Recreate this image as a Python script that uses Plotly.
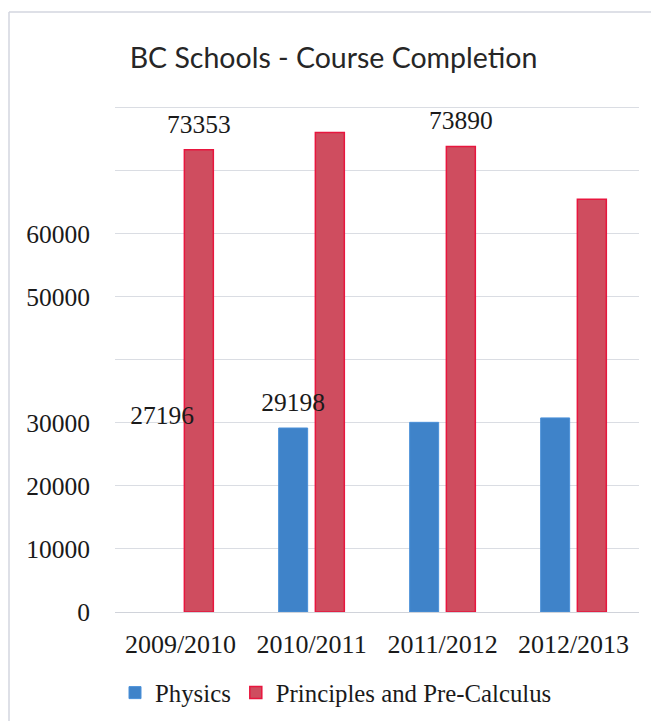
import plotly.graph_objects as go

categories = ["2009/2010", "2010/2011", "2011/2012", "2012/2013"]
physics = [27196, 29198, 30100, 30800]
precalc = [73353, 76100, 73890, 65500]
physics_labels = ["27196", "29198", "", ""]
precalc_labels = ["73353", "", "73890", ""]
physics_drawn = [False, True, True, True]   # the 2009/2010 Physics bar is not drawn in the source
tick_values = [0, 10000, 20000, 30000, 40000, 50000, 60000, 70000, 80000]
tick_text = ["0", "10000", "20000", "30000", "", "50000", "60000", "", ""]

serif = "Liberation Serif"
label_font = dict(family=serif, size=25.5, color="#1a1a1a")

# page has an 8px body margin; figure is sized/placed to compensate
W, H = 651, 713
L, T = 107, 98
PX_PER_10K = 62.96
YMAX = 80300
plot_h = YMAX / 10000 * PX_PER_10K
B = H - T - plot_h
R = W - L - 524
LABEL_LIFT = 8 / PX_PER_10K * 10000   # extra gap between bar top and its value label

fig = go.Figure()
vis = [i for i, d in enumerate(physics_drawn) if d]
fig.add_trace(go.Bar(
    name="Physics", x=[categories[i] for i in vis], y=[physics[i] for i in vis],
    marker=dict(color="#3f83c9", line=dict(color="#4a90d9", width=1)),
    offsetgroup="phys",
))
fig.add_trace(go.Bar(
    name="Principles and Pre-Calculus", x=categories, y=precalc,
    marker=dict(color="#cf4d5f", line=dict(color="#e8163e", width=1.5)),
    offsetgroup="pre",
))
# value labels drawn on top of all bars
for vals, labels, grp in [(physics, physics_labels, "phys"), (precalc, precalc_labels, "pre")]:
    fig.add_trace(go.Bar(
        x=categories, y=vals, base=LABEL_LIFT,
        marker=dict(color="rgba(0,0,0,0)", line=dict(width=0)),
        text=labels, textposition="outside", cliponaxis=False, constraintext="none",
        textfont=label_font, offsetgroup=grp, showlegend=False, hoverinfo="skip",
    ))

fig.update_layout(
    width=W, height=H,
    font=dict(family=serif, color="#1a1a1a"),
    paper_bgcolor="white", plot_bgcolor="white",
    margin=dict(l=L, r=R, t=T, b=B, autoexpand=False),
    barmode="group", bargap=0.44, bargroupgap=0.21,
    title=dict(text="BC Schools - Course Completion", x=0.5, xanchor="center",
               xref="container", y=1 - 50 / H, yanchor="middle", yref="container",
               font=dict(family="Lato", size=28.5, color="#262626")),
    legend=dict(orientation="h", xref="container", x=(336 - 8) / W, xanchor="center",
                yref="container", y=1 - (693 - 8) / H, yanchor="middle",
                font=dict(family=serif, size=24.8, color="#1a1a1a"), traceorder="normal",
                itemwidth=30),
    xaxis=dict(showgrid=False, showline=False, ticks="", ticklabelstandoff=14,
               categoryorder="array", categoryarray=categories, automargin=False,
               tickfont=dict(family=serif, size=26, color="#1a1a1a")),
    yaxis=dict(range=[0, YMAX], tickvals=tick_values, ticktext=tick_text,
               showgrid=True, gridcolor="#dadde3", gridwidth=1, zeroline=True,
               zerolinecolor="#d0d3da", zerolinewidth=1, showline=False,
               ticks="", ticklabelstandoff=24, automargin=False,
               tickfont=dict(family=serif, size=25.5, color="#1a1a1a")),
    shapes=[
        dict(type="line", xref="paper", yref="paper", x0=(1 - L) / 524, x1=(W + 10 - L) / 524,
             y0=1 + (T - 4) / plot_h, y1=1 + (T - 4) / plot_h,
             line=dict(color="#d3d6df", width=1.5)),
        dict(type="line", xref="paper", yref="paper", x0=(1 - L) / 524, x1=(1 - L) / 524,
             y0=1 + (T - 4) / plot_h, y1=-(B + 10) / plot_h,
             line=dict(color="#d3d6df", width=1.5)),
    ],
)

fig.write_html("out.html")
